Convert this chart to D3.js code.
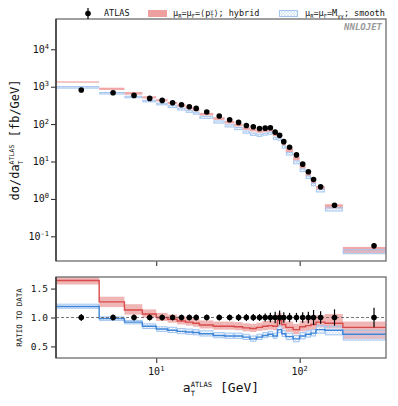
<!DOCTYPE html>
<html>
<head>
<meta charset="utf-8">
<script src="https://cdn.jsdelivr.net/npm/d3@7"></script>
<style>
  body { margin: 0; background: #fff; }
  text { font-family: "DejaVu Sans Mono", monospace; fill: #111; }
</style>
</head>
<body>
<script>
// bin edges of a_T (GeV)
var edges = [2,4,6,8,10,12,14,16,18,20,25,30,35,40,45,50,55,60,65,70,75,80,90,100,110,120,130,150,200,400];
// ATLAS points: position, value (fb/GeV), relative error
var xPts = [3,5,7,9,11,13,15,17,19,22.5,27.5,32.5,37.5,42.5,47.5,52.5,57.5,62.5,67.5,72.5,77.5,85,95,105,115,125,140,175,330];
var dataVals = [817,692,585,486,430,373,330,291,263,210,164,131,111,92,85,76,78,80,61,50,34,24,15,8.5,5.3,3.3,2.1,0.68,0.056];
var dataErr = [0.06,0.05,0.05,0.05,0.05,0.05,0.05,0.05,0.05,0.05,0.05,0.05,0.06,0.06,0.06,0.06,0.07,0.08,0.10,0.12,0.09,0.08,0.08,0.09,0.10,0.13,0.11,0.14,0.17];
// ratio to data, hybrid scale (central, up, down)
var hybRatio = [1.64,1.27,1.13,1.06,1.00,0.97,0.94,0.92,0.90,0.87,0.85,0.85,0.84,0.82,0.81,0.83,0.85,0.86,0.85,0.95,0.88,0.83,0.79,0.84,0.86,0.88,0.92,0.90,0.83];
var hybUp = [0.06,0.09,0.10,0.08,0.08,0.08,0.08,0.08,0.08,0.08,0.08,0.08,0.08,0.08,0.08,0.08,0.09,0.09,0.09,0.13,0.10,0.10,0.10,0.10,0.11,0.11,0.12,0.16,0.10];
var hybDn = [0.07,0.09,0.08,0.06,0.06,0.06,0.06,0.06,0.06,0.06,0.06,0.06,0.06,0.06,0.06,0.06,0.07,0.07,0.07,0.10,0.08,0.08,0.08,0.08,0.08,0.09,0.09,0.09,0.20];
// ratio to data, smooth scale
var smRatio = [1.19,0.98,0.92,0.85,0.80,0.78,0.76,0.75,0.74,0.72,0.69,0.68,0.68,0.66,0.63,0.66,0.69,0.71,0.68,0.79,0.72,0.67,0.63,0.68,0.71,0.73,0.79,0.78,0.71];
var smUp = [0.04,0.03,0.03,0.04,0.04,0.05,0.05,0.05,0.05,0.05,0.05,0.05,0.05,0.05,0.05,0.05,0.05,0.05,0.05,0.06,0.06,0.06,0.06,0.06,0.06,0.06,0.07,0.07,0.07];
var smDn = [0.03,0.03,0.03,0.04,0.04,0.04,0.04,0.04,0.04,0.04,0.04,0.04,0.04,0.04,0.04,0.04,0.04,0.04,0.04,0.05,0.05,0.05,0.05,0.05,0.05,0.05,0.06,0.08,0.10];

var xMajor = [10,100];
var yMajor = [0.1,1,10,100,1000,10000];
var rMajor = [0.5,1.0,1.5];

var width = 398, height = 406;
var left = 56, right = 386;
var mainTop = 19, mainBot = 261, ratTop = 277, ratBot = 358;

var red = "#d94a4a", redBand = "#ee9f9f", blue = "#3f86d9", blueLight = "#a3c5f0";

var svg = d3.select("body").append("svg")
    .attr("width", width)
    .attr("height", height);

var defs = svg.append("defs");
var pat = defs.append("pattern")
    .attr("id", "hatch")
    .attr("patternUnits", "userSpaceOnUse")
    .attr("width", 3).attr("height", 3);
pat.append("path")
    .attr("d", "M0,0L3,3M3,0L0,3")
    .attr("stroke", "#b9d3f3")
    .attr("stroke-width", 0.5);
defs.append("clipPath").attr("id", "clipMain").append("rect")
    .attr("x", left).attr("y", mainTop).attr("width", right-left).attr("height", mainBot-mainTop);
defs.append("clipPath").attr("id", "clipRat").append("rect")
    .attr("x", left).attr("y", ratTop).attr("width", right-left).attr("height", ratBot-ratTop);

var x = d3.scaleLog().domain([2,400]).range([left,right]);
var y = d3.scaleLog().domain([Math.pow(10,-1.66), Math.pow(10,4.81)]).range([mainBot, mainTop]);
var yr = d3.scaleLinear().domain([0.3,1.7]).range([ratBot, ratTop]);

var bins = d3.range(xPts.length).map(function(i){
  return {i:i, x0:edges[i], x1:edges[i+1], xc:xPts[i], v:dataVals[i], e:dataErr[i],
          h:hybRatio[i], hu:hybUp[i], hd:hybDn[i], s:smRatio[i], su:smUp[i], sd:smDn[i]};
});

// ---------- main panel ----------
var main = svg.append("g").attr("clip-path", "url(#clipMain)");

main.selectAll("rect.hyb")
  .data(bins).enter().append("rect")
  .attr("class","hyb")
  .attr("x", function(d){ return x(d.x0); })
  .attr("width", function(d){ return x(d.x1)-x(d.x0); })
  .attr("y", function(d){ return y(d.v*(d.h+d.hu)); })
  .attr("height", function(d){ return y(d.v*(d.h-d.hd)) - y(d.v*(d.h+d.hu)); })
  .attr("fill", redBand).attr("opacity", 0.9);

main.selectAll("rect.sm")
  .data(bins).enter().append("rect")
  .attr("class","sm")
  .attr("x", function(d){ return x(d.x0)+0.5; })
  .attr("width", function(d){ return x(d.x1)-x(d.x0)-1; })
  .attr("y", function(d){ return y(d.v*(d.s+d.su)); })
  .attr("height", function(d){ return Math.max(1.5, y(d.v*(d.s-d.sd)) - y(d.v*(d.s+d.su))); })
  .attr("fill", "url(#hatch)")
  .attr("stroke", blueLight).attr("stroke-width", 1);

main.selectAll("line.err")
  .data(bins).enter().append("line")
  .attr("x1", function(d){ return x(d.xc); }).attr("x2", function(d){ return x(d.xc); })
  .attr("y1", function(d){ return y(d.v*(1+d.e)); })
  .attr("y2", function(d){ return y(d.v*(1-d.e)); })
  .attr("stroke", "#000").attr("stroke-width", 1.2);
main.selectAll("circle")
  .data(bins).enter().append("circle")
  .attr("cx", function(d){ return x(d.xc); })
  .attr("cy", function(d){ return y(d.v); })
  .attr("r", 2.8).attr("fill", "#000");

// ---------- ratio panel ----------
var rat = svg.append("g").attr("clip-path", "url(#clipRat)");

rat.selectAll("rect.hyb")
  .data(bins).enter().append("rect")
  .attr("x", function(d){ return x(d.x0); })
  .attr("width", function(d){ return x(d.x1)-x(d.x0); })
  .attr("y", function(d){ return yr(d.h+d.hu); })
  .attr("height", function(d){ return yr(d.h-d.hd)-yr(d.h+d.hu); })
  .attr("fill", "#e47a7a").attr("opacity", 0.55);

rat.selectAll("rect.sm")
  .data(bins).enter().append("rect")
  .attr("x", function(d){ return x(d.x0)+0.5; })
  .attr("width", function(d){ return x(d.x1)-x(d.x0)-1; })
  .attr("y", function(d){ return yr(d.s+d.su); })
  .attr("height", function(d){ return yr(d.s-d.sd)-yr(d.s+d.su); })
  .attr("fill", "url(#hatch)")
  .attr("stroke", blueLight).attr("stroke-width", 1);

var stepLine = function(key){
  return d3.line()
    .x(function(p){ return x(p[0]); })
    .y(function(p){ return yr(p[1]); })(
      bins.reduce(function(acc, d){ acc.push([d.x0, d[key]]); acc.push([d.x1, d[key]]); return acc; }, []));
};
rat.append("path").attr("d", stepLine("h")).attr("fill","none").attr("stroke", red).attr("stroke-width", 1.4);
rat.append("path").attr("d", stepLine("s")).attr("fill","none").attr("stroke", blue).attr("stroke-width", 1.4);

rat.append("line")
  .attr("x1", left).attr("x2", right).attr("y1", yr(1)).attr("y2", yr(1))
  .attr("stroke", "#555").attr("stroke-width", 0.8).attr("stroke-dasharray", "3,2");

rat.selectAll("line.err")
  .data(bins).enter().append("line")
  .attr("x1", function(d){ return x(d.xc); }).attr("x2", function(d){ return x(d.xc); })
  .attr("y1", function(d){ return yr(1+d.e); })
  .attr("y2", function(d){ return yr(1-d.e); })
  .attr("stroke", "#000").attr("stroke-width", 1.2);
rat.selectAll("circle")
  .data(bins).enter().append("circle")
  .attr("cx", function(d){ return x(d.xc); })
  .attr("cy", yr(1))
  .attr("r", 2.8).attr("fill", "#000");

// ---------- axes ----------
var supNum = function(g, exp){
  g.append("tspan").text("10");
  g.append("tspan").attr("dy", -4).attr("font-size", "7px").text(exp);
};

function xAxis(yPos, labels){
  var g = svg.append("g").attr("transform", "translate(0," + yPos + ")");
  g.call(d3.axisBottom(x).tickValues(x.ticks()).tickFormat("").tickSize(3));
  g.call(d3.axisBottom(x).tickValues(xMajor).tickFormat("").tickSize(5));
  g.selectAll(".domain").remove();
  g.selectAll("line").attr("stroke", "#222");
  if (labels) {
    xMajor.forEach(function(v){
      var t = g.append("text").attr("x", x(v)).attr("y", 17)
        .attr("text-anchor", "middle").attr("font-size", "10px");
      supNum(t, Math.round(Math.log10(v)));
    });
  }
}
xAxis(mainBot, false);
xAxis(ratBot, true);

var gy = svg.append("g").attr("transform", "translate(" + left + ",0)");
gy.call(d3.axisLeft(y).tickValues(y.ticks()).tickFormat("").tickSize(3));
gy.call(d3.axisLeft(y).tickValues(yMajor).tickFormat("").tickSize(5));
gy.selectAll(".domain").remove();
gy.selectAll("line").attr("stroke", "#222");
yMajor.forEach(function(v){
  var t = gy.append("text").attr("x", -7).attr("y", y(v)+3.5)
    .attr("text-anchor", "end").attr("font-size", "10px");
  supNum(t, Math.round(Math.log10(v)));
});

var gr = svg.append("g").attr("transform", "translate(" + left + ",0)");
gr.call(d3.axisLeft(yr).tickValues(rMajor).tickFormat(d3.format(".1f")).tickSize(5));
gr.selectAll(".domain").remove();
gr.selectAll("line").attr("stroke", "#222");
gr.selectAll("text").attr("font-size", "9.5px").attr("font-family", "DejaVu Sans Mono").attr("fill", "#111");

// frames
[[mainTop, mainBot], [ratTop, ratBot]].forEach(function(p){
  svg.append("rect").attr("x", left).attr("y", p[0]).attr("width", right-left).attr("height", p[1]-p[0])
    .attr("fill", "none").attr("stroke", "#777").attr("stroke-width", 1.4);
  svg.append("line").attr("x1", left).attr("x2", left).attr("y1", p[0]).attr("y2", p[1])
    .attr("stroke", "#222").attr("stroke-width", 1.2);
});

// ---------- labels ----------
function labelT(parent, base, size, after){
  var t = parent.append("text").attr("font-size", size + "px");
  t.append("tspan").text(base);
  var sup = t.append("tspan").attr("dy", -size*0.42).attr("font-size", (size*0.55) + "px").text("ATLAS");
  var w = sup.node().getComputedTextLength();
  t.append("tspan").attr("dx", -w).attr("dy", size*0.75).attr("font-size", (size*0.55) + "px").text("T");
  var w2 = size*0.55*0.6;
  t.append("tspan").attr("dx", w - w2).attr("dy", -size*0.33).text(after);
  return t;
}
var yl = svg.append("g").attr("transform", "translate(19,140) rotate(-90)");
var ylt = labelT(yl, "d\u03c3/da", 12, " [fb/GeV]");
var bb = ylt.node().getBBox();
ylt.attr("x", -bb.width/2);

var xl = svg.append("g").attr("transform", "translate(221,392)");
var xlt = labelT(xl, "a", 13, " [GeV]");
var bb2 = xlt.node().getBBox();
xlt.attr("x", -bb2.width/2);

svg.append("text")
  .attr("transform", "translate(22," + (ratTop+ratBot)/2 + ") rotate(-90)")
  .attr("text-anchor", "middle").attr("font-size", "7.5px").text("RATIO TO DATA");

svg.append("text").attr("x", 382).attr("y", 30)
  .attr("text-anchor", "end").attr("font-size", "9px")
  .attr("font-style", "italic").attr("font-weight", "bold")
  .style("fill", "#9a9a9a").text("NNLOJET");

// ---------- legend ----------
var lg = svg.append("g");
lg.append("line").attr("x1", 88).attr("x2", 88).attr("y1", 8).attr("y2", 19).attr("stroke", "#000").attr("stroke-width", 1.2);
lg.append("circle").attr("cx", 88).attr("cy", 13.5).attr("r", 2.8).attr("fill", "#000");
lg.append("text").attr("x", 104).attr("y", 16).attr("font-size", "8.5px").text("ATLAS");

lg.append("rect").attr("x", 148).attr("y", 10).attr("width", 19).attr("height", 7).attr("fill", redBand);
var t1 = lg.append("text").attr("x", 173).attr("y", 16).attr("font-size", "8.5px");
t1.append("tspan").text("\u03bc");
t1.append("tspan").attr("dy", 2).attr("font-size", "5.5px").text("R");
t1.append("tspan").attr("dy", -2).text("=\u03bc");
t1.append("tspan").attr("dy", 2).attr("font-size", "5.5px").text("F");
t1.append("tspan").attr("dy", -2).text("=\u27e8p");
t1.append("tspan").attr("dy", -3).attr("font-size", "5px").text("\u03b3");
t1.append("tspan").attr("dx", -3).attr("dy", 5).attr("font-size", "5px").text("T");
t1.append("tspan").attr("dy", -2).text("\u27e9; hybrid");

lg.append("rect").attr("x", 279.5).attr("y", 10.5).attr("width", 18).attr("height", 6)
  .attr("fill", "url(#hatch)").attr("stroke", blueLight).attr("stroke-width", 1);
var t2 = lg.append("text").attr("x", 305).attr("y", 16).attr("font-size", "8.5px");
t2.append("tspan").text("\u03bc");
t2.append("tspan").attr("dy", 2).attr("font-size", "5.5px").text("R");
t2.append("tspan").attr("dy", -2).text("=\u03bc");
t2.append("tspan").attr("dy", 2).attr("font-size", "5.5px").text("F");
t2.append("tspan").attr("dy", -2).text("=M");
t2.append("tspan").attr("dy", 2).attr("font-size", "5.5px").text("\u03b3\u03b3");
t2.append("tspan").attr("dy", -2).text("; smooth");
</script>
</body>
</html>
